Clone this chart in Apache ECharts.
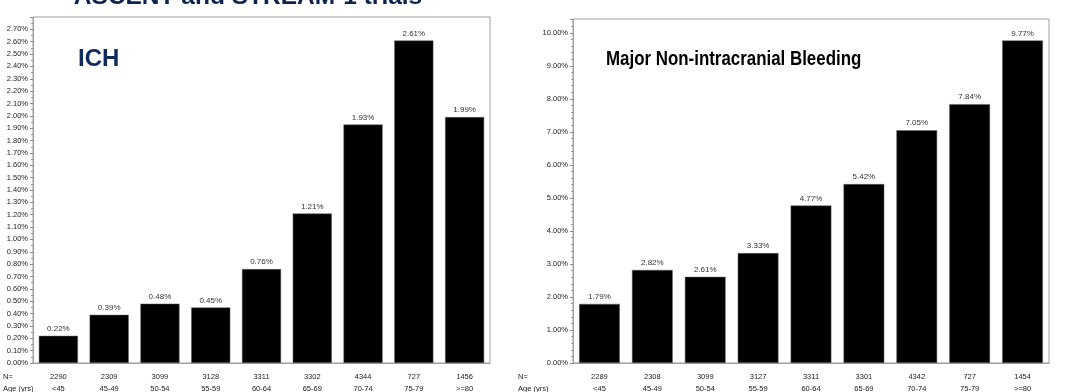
<!DOCTYPE html>
<html>
<head>
<meta charset="utf-8">
<script src="https://cdn.jsdelivr.net/npm/echarts@6/dist/echarts.min.js"></script>
<style>
html,body{margin:0;padding:0;background:#fff;}
#chart{width:1080px;height:392px;}
</style>
</head>
<body>
<div id="chart"></div>
<script>
const ageGroups = ['<45','45-49','50-54','55-59','60-64','65-69','70-74','75-79','>=80'];
const ichN = ['2290','2309','3099','3128','3311','3302','4344','727','1456'];
const ichRate = [0.22,0.39,0.48,0.45,0.76,1.21,1.93,2.61,1.99];
const bleedN = ['2289','2308','3099','3127','3311','3301','4342','727','1454'];
const bleedRate = [1.79,2.82,2.61,3.33,4.77,5.42,7.05,7.84,9.77];

const FONT = 'Liberation Sans, Arial, sans-serif';
const chart = echarts.init(document.getElementById('chart'), null, {renderer:'canvas'});

function xLabels(nArr){
  return ageGroups.map((a,i)=>nArr[i]+'\n'+a);
}
function xAxisCfg(idx, nArr){
  return {
    type:'category', gridIndex:idx, data:xLabels(nArr),
    axisLine:{show:true, lineStyle:{color:'#a0a0a0', width:1}},
    axisTick:{show:false},
    axisLabel:{fontFamily:FONT, fontSize:7.5, color:'#222', lineHeight:12, margin:8, interval:0}
  };
}
function barSeries(idx, data){
  return {
    type:'bar', xAxisIndex:idx, yAxisIndex:idx, data:data,
    barCategoryGap:'23%',
    itemStyle:{color:'#000', borderColor:'#666', borderWidth:0.5},
    label:{show:true, position:'top', distance:3, fontFamily:FONT, fontSize:8, color:'#333',
      formatter:p=>p.value.toFixed(2)+'%'},
    silent:true, animation:false
  };
}

const option = {
  animation:false,
  grid:[
    {left:33, right:590, top:17, bottom:29, show:true, borderColor:'#a0a0a0', borderWidth:1, backgroundColor:'#fff', containLabel:false, outerBoundsMode:'none'},
    {left:573, right:31, top:19, bottom:29, show:true, borderColor:'#a0a0a0', borderWidth:1, backgroundColor:'#fff', containLabel:false, outerBoundsMode:'none'}
  ],
  xAxis:[xAxisCfg(0, ichN), xAxisCfg(1, bleedN)],
  yAxis:[
    {type:'value', gridIndex:0, min:0, max:2.8, interval:0.1,
     axisLine:{show:true, lineStyle:{color:'#a0a0a0'}},
     axisTick:{show:true, length:3, lineStyle:{color:'#888'}},
     minorTick:{show:true, splitNumber:2, length:2, lineStyle:{color:'#999'}},
     splitLine:{show:false},
     axisLabel:{fontFamily:FONT, fontSize:7.5, color:'#222', margin:5,
       formatter:v=> v>2.75 ? '' : v.toFixed(2)+'%'}},
    {type:'value', gridIndex:1, min:0, max:10.42, interval:1,
     axisLine:{show:true, lineStyle:{color:'#a0a0a0'}},
     axisTick:{show:true, length:3, lineStyle:{color:'#888'}},
     minorTick:{show:true, splitNumber:5, length:2, lineStyle:{color:'#999'}},
     splitLine:{show:false},
     axisLabel:{fontFamily:FONT, fontSize:7.5, color:'#222', margin:5,
       formatter:v=> v>10.05 ? '' : v.toFixed(2)+'%'}}
  ],
  series:[barSeries(0, ichRate), barSeries(1, bleedRate)],
  graphic:[
    {type:'text', x:248, y:-15, style:{text:'ASCENT and STREAM-1 trials', fontFamily:FONT, fontWeight:'bold', fontSize:24.5, fill:'#0d2350', align:'center'}},
    {type:'text', x:78, y:47, style:{text:'ICH', fontFamily:FONT, fontWeight:'bold', fontSize:24, fill:'#0f2a5c'}},
    {type:'text', x:606, y:49, scaleY:1.2, style:{text:'Major Non-intracranial Bleeding', fontFamily:FONT, fontWeight:'bold', fontSize:16.9, fill:'#000'}},
    {type:'text', x:3, y:373, style:{text:'N=', fontFamily:FONT, fontSize:7.5, fill:'#222'}},
    {type:'text', x:3, y:385, style:{text:'Age (yrs)', fontFamily:FONT, fontSize:7.5, fill:'#222'}},
    {type:'text', x:518, y:373, style:{text:'N=', fontFamily:FONT, fontSize:7.5, fill:'#222'}},
    {type:'text', x:518, y:385, style:{text:'Age (yrs)', fontFamily:FONT, fontSize:7.5, fill:'#222'}}
  ]
};
chart.setOption(option);
</script>
</body>
</html>
